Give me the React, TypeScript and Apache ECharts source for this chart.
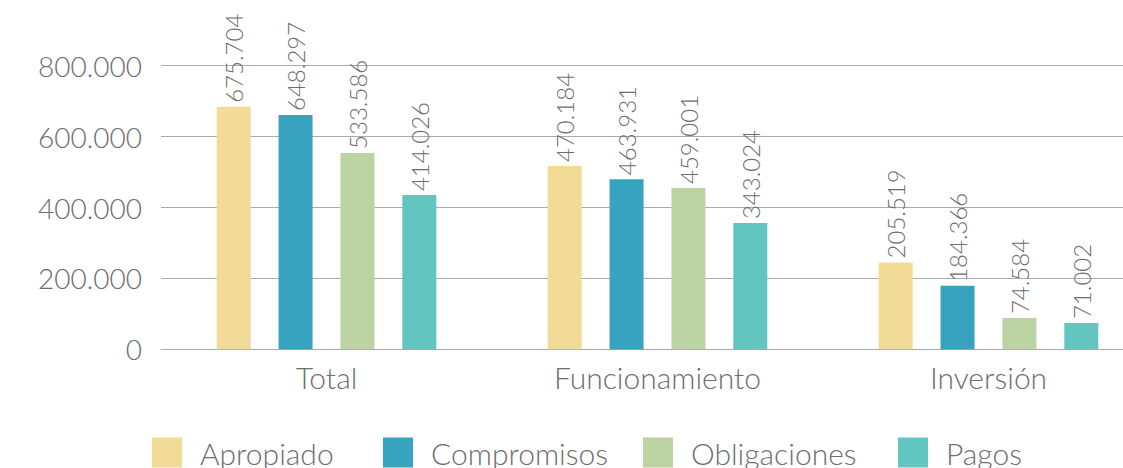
import React, { useEffect, useRef } from "react";
import * as echarts from "echarts";

const categories = ["Total", "Funcionamiento", "Inversión"];
const seriesNames = ["Apropiado", "Compromisos", "Obligaciones", "Pagos"];
const apropiado = [684000, 517000, 245000];
const compromisos = [661000, 480000, 179000];
const obligaciones = [554000, 455000, 88000];
const pagos = [435000, 356000, 74000];
const apropiadoLabels = ["675.704", "470.184", "205.519"];
const compromisosLabels = ["648.297", "463.931", "184.366"];
const obligacionesLabels = ["533.586", "459.001", "74.584"];
const pagosLabels = ["414.026", "343.024", "71.002"];
const colors = ["#F2DB96", "#37A3BF", "#BCD3A4", "#62C5C0"];

const FONT = "Lato";
const TEXT = "#6e6e6e";

function fmt(v: number): string {
  return String(Math.round(v)).replace(/\B(?=(\d{3})+(?!\d))/g, ".");
}

export default function App() {
  const ref = useRef<HTMLDivElement>(null);
  useEffect(() => {
    if (!ref.current) return;
    const chart = echarts.init(ref.current, null, { renderer: "svg" });
    const values = [apropiado, compromisos, obligaciones, pagos];
    const labels = [apropiadoLabels, compromisosLabels, obligacionesLabels, pagosLabels];
    const legendLeft = [152, 383, 643, 898];
    chart.setOption({
      animation: false,
      color: colors,
      grid: {
        left: 161,
        width: 993,
        top: 65.7,
        bottom: 118.7,
        containLabel: false,
        outerBoundsMode: "none",
      },
      legend: seriesNames.map((n, i) => ({
        data: [n],
        left: legendLeft[i],
        top: 437.5,
        padding: 0,
        itemWidth: 30,
        itemHeight: 30,
        icon: "rect",
        selectedMode: false,
        textStyle: {
          fontFamily: FONT,
          fontWeight: 300,
          fontSize: 30,
          color: TEXT,
          padding: [0, 0, 0, 13],
        },
      })),
      xAxis: {
        type: "category",
        data: categories,
        axisTick: { show: false },
        axisLine: { lineStyle: { color: "#aaaaaa", width: 1 } },
        axisLabel: {
          fontFamily: FONT,
          fontWeight: 300,
          fontSize: 30,
          color: TEXT,
          margin: 13,
        },
      },
      yAxis: {
        type: "value",
        min: 0,
        max: 800000,
        interval: 200000,
        axisLine: { show: false },
        axisTick: { show: false },
        splitLine: { lineStyle: { color: "#aaaaaa", width: 1 } },
        axisLabel: {
          fontFamily: FONT,
          fontWeight: 300,
          fontSize: 28,
          color: TEXT,
          margin: 19,
          formatter: (v: number) => fmt(v),
        },
      },
      series: seriesNames.map((n, i) => ({
        name: n,
        type: "bar",
        data: values[i],
        barWidth: 34,
        barGap: "82%",
        itemStyle: { color: colors[i] },
        label: {
          show: true,
          position: "top",
          rotate: 90,
          align: "left",
          verticalAlign: "middle",
          distance: 4,
          fontFamily: FONT,
          fontWeight: 300,
          fontSize: 24,
          color: TEXT,
          formatter: (p: any) => labels[i][p.dataIndex],
        },
      })),
    });
    return () => chart.dispose();
  }, []);
  return (
    <div
      ref={ref}
      style={{ position: "absolute", left: 0, top: 0, width: 1123, height: 468 }}
    />
  );
}
